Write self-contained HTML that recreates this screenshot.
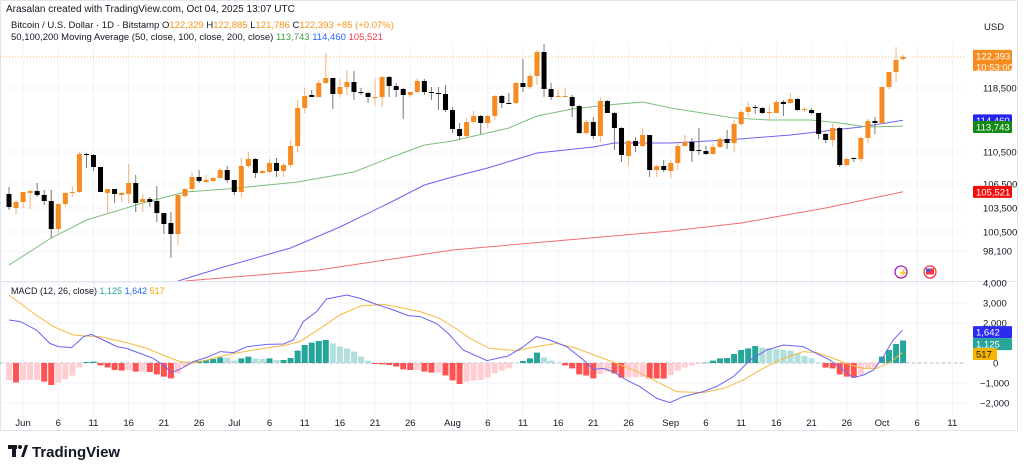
<!DOCTYPE html>
<html><head><meta charset="utf-8">
<style>
html,body{margin:0;padding:0;background:#fff;}
svg{display:block;font-family:"Liberation Sans",sans-serif;}
</style></head>
<body>
<svg id="chart" width="1024" height="470" viewBox="0 0 1024 470" xmlns="http://www.w3.org/2000/svg">
<rect x="0" y="0" width="1024" height="470" fill="#ffffff"/>
<rect x="0.5" y="0.5" width="1017" height="430" fill="none" stroke="#e0e3eb"/>
<g id="grid"></g>
<g id="price" clip-path="url(#pclip)"></g>
<g id="macd" clip-path="url(#mclip)"></g>
<defs>
<clipPath id="pclip"><rect x="0" y="44" width="966" height="237"/></clipPath>
<clipPath id="mclip"><rect x="0" y="282" width="966" height="140"/></clipPath>
</defs>
<line x1="0" y1="281.5" x2="1017" y2="281.5" stroke="#e0e3eb"/>
<g id="axes"></g>
<text x="6" y="12" font-size="10" fill="#131722">Arasalan created with TradingView.com, Oct 04, 2025 13:07 UTC</text>
<text x="11" y="28" font-size="9.5" fill="#131722">Bitcoin / U.S. Dollar · 1D · Bitstamp  <tspan>O</tspan><tspan fill="#f7931a">122,329</tspan> H<tspan fill="#f7931a">122,885</tspan> L<tspan fill="#f7931a">121,786</tspan> C<tspan fill="#f7931a">122,393</tspan> <tspan fill="#f7931a">+85 (+0.07%)</tspan></text>
<text x="11" y="40" font-size="9.5" fill="#131722">50,100,200 Moving Average (50, close, 100, close, 200, close) <tspan fill="#43a047">113,743</tspan> <tspan fill="#2962ff">114,460</tspan> <tspan fill="#f23645">105,521</tspan></text>
<text x="984" y="30" font-size="9.5" fill="#131722">USD</text>
<text x="11" y="294" font-size="9" fill="#131722">MACD (12, 26, close) <tspan fill="#26a69a">1,125</tspan> <tspan fill="#2962ff">1,642</tspan> <tspan fill="#f7a600">517</tspan></text>
<g>
<circle cx="901" cy="272" r="6" fill="none" stroke="#9c27b0" stroke-width="1.3"/>
<text x="898" y="275.5" font-size="8" fill="#9c27b0">⚡</text>
<circle cx="930" cy="272" r="6" fill="#fff" stroke="#f23645" stroke-width="1.3"/>
<rect x="926" y="268.5" width="8" height="6" fill="#f23645"/><rect x="926" y="268.5" width="4" height="3" fill="#2962ff"/>
</g>
<g>
<rect x="8" y="445" width="9" height="4" fill="#131722"/><rect x="12" y="445" width="4" height="12" fill="#131722"/>
<circle cx="20" cy="447" r="2" fill="#131722"/><polygon points="21,457 25,445 28,445 24,457" fill="#131722"/>
<text x="32" y="457" font-size="15" font-weight="bold" fill="#131722">TradingView</text>
</g>
</svg>
<script>
const opens=[105250,103500,104250,105375,105625,105125,104375,100875,104000,105375,
105500,110250,110125,108625,105375,105875,105125,105250,106625,104250,
104625,104375,102875,101625,100250,105000,105875,107375,106750,106875,
107250,108250,107000,105500,108750,109625,107875,108000,109125,108125,
108875,111250,116000,117625,117375,119125,119750,117750,118625,119250,
118000,117875,117250,117375,119875,118750,118375,117625,118000,119375,
118000,117875,117750,115750,113375,112500,114250,115000,114125,115000,
117500,116625,116625,119125,118625,120000,123000,118375,117375,117375,
117375,116250,112875,114250,112500,116875,115375,113500,110000,111875,
111250,112625,108250,108750,108125,109125,111250,111750,110750,110625,
110250,111125,112125,111625,114000,115500,116125,116000,115375,115375,
116750,116625,117125,115750,115750,115375,112750,112000,113500,108875,
109750,109625,112250,114375,114125,118625,120500,122125];
const highs=[106125,104500,105500,105750,106625,105750,105750,104125,105500,106250,
110500,110375,110250,108625,105875,105875,105500,109000,107625,105250,
104875,106250,102875,103000,105125,106000,108000,108250,107625,107375,
108500,108750,107000,109750,110500,109750,108250,109625,109750,109125,
112000,117000,118500,118250,119500,122875,119750,119625,120750,120625,
118500,118000,119625,120000,120000,119125,118500,118000,119750,119625,
118625,118625,118875,116125,114125,114750,115625,115125,115125,117625,
117625,117875,119250,122125,120375,123250,124125,119125,118250,118500,
117625,116375,114500,114875,117375,117000,115500,113625,112000,112375,
113500,112625,108875,109500,109500,111625,112625,112250,113500,111250,
111500,112375,113250,114500,115750,116750,116375,116125,116250,117000,
117000,117875,117250,116125,116000,115375,112875,114000,113625,109875,
109875,112375,114625,114875,118625,120500,123625,122625];
const lows=[103250,102750,103500,103375,104875,103875,99750,100375,103625,104875,
105375,108500,108125,105500,102750,104125,104250,104125,103000,103000,
103625,101750,100250,97250,98875,104750,105625,106625,106625,106750,
107125,106625,105125,104875,108500,107250,107750,107875,107375,107375,
108625,110500,115375,117375,117375,119000,115875,117375,117625,117000,
117625,116625,116375,116125,117375,117375,114625,117375,117875,117625,
117000,115750,115500,112875,112000,112125,114125,112750,113500,114500,
116000,116500,116500,118000,118375,118875,117375,117000,117375,117375,
114875,112750,112625,112125,111750,115375,110750,109250,108750,110500,
111125,107375,107375,108000,107250,108250,111125,109250,110125,110125,
110125,111000,110875,110500,113750,114875,115250,115250,114500,115375,
115000,116500,115625,115500,115250,112125,111625,111125,108625,108750,
109250,109250,111625,112750,114000,118375,119250,121875];
const closes=[103625,104250,105500,105625,105125,104375,100875,104000,105375,105500,
110250,110125,108625,105500,105875,105250,105375,106625,104125,104625,
104250,102875,101500,100250,105125,105875,107375,106875,107000,107250,
108250,107000,105500,108750,109625,107875,108125,109125,108125,108875,
111250,116000,117500,117375,119125,119750,117750,118625,119250,118000,
117875,117375,117375,119875,118750,118250,117625,118000,119375,118000,
117875,117750,115750,113375,112500,114250,115000,114125,115000,117500,
116625,116500,119125,118625,120000,123000,118375,117375,117500,117500,
116250,112875,114250,112500,116875,115375,113500,110125,111875,111250,
112625,108250,108750,108250,109125,111250,111750,110625,110625,110250,
111125,112125,111625,114000,115500,116125,116000,115375,115500,116750,
116500,117125,115750,115875,115375,112750,112000,113500,108875,109625,
109625,112250,114375,114125,118625,120500,122000,122393];
const ma50Idx=[0,6,11,19,25,31,41,49,54,59,63,71,75,80,85,90,94,103,108,114,118,122,127];
const ma50Val=[96375,99750,102000,104125,105500,105875,106750,108000,109750,111375,111875,113500,115000,115875,116375,116750,116000,114750,114500,114500,114125,113625,113743];
const ma100Idx=[24,30,40,47,54,59,63,68,75,83,86,94,102,111,121,127];
const ma100Val=[94375,96000,98500,101125,104125,106375,107375,108500,110375,111125,111625,111625,112000,112625,113625,114460];
const ma200Idx=[25,44,63,94,104,116,127];
const ma200Val=[94375,95750,98250,100625,101625,103500,105521];
const histVals=[-850,-970,-850,-850,-850,-930,-1100,-980,-820,-630,
-220,50,70,-120,-220,-350,-380,-350,-430,-430,
-450,-570,-680,-770,-520,-180,-50,100,130,200,
280,270,120,230,320,230,200,230,150,150,
250,620,900,1020,1100,1150,980,820,720,570,
320,120,-50,-70,-100,-180,-320,-350,-350,-430,
-480,-480,-620,-870,-1050,-930,-880,-850,-720,-520,
-380,-270,-20,100,230,520,280,120,10,-120,
-270,-570,-630,-770,-550,-430,-520,-730,-720,-710,
-700,-770,-775,-780,-600,-380,-220,-130,-50,20,
120,230,250,450,650,730,850,770,730,700,
650,620,480,350,230,10,-230,-270,-570,-680,
-730,-600,-270,-220,320,650,950,1125];
const macdIdx=[0,1.6,3.9,5.8,7,8.9,10.6,11.7,13.4,15.3,16.7,18.6,20.5,21.9,23.1,24.5,26.2,28.1,30,31.9,33.8,36.6,39,40.4,41.8,43.7,45.1,48,49.9,52.2,54.6,56.7,58.4,60.7,62.4,64.5,67.9,70.9,73.1,74.9,76.8,79.2,81.6,83,84.4,85.8,87.7,89.6,92,93.9,95.8,98.6,100.5,102.9,105.3,107.6,110,112.8,114.7,116.6,118.5,119.9,121.4,122.8,124.2,125.6,126.9];
const macdVal=[2150,2070,1650,980,820,770,1320,1430,1150,820,730,480,230,-100,-480,-270,70,280,570,520,820,930,950,1150,2070,2570,3200,3400,3230,2930,2650,2370,2320,1980,1480,650,120,350,820,1320,1150,820,150,-320,-270,-430,-850,-1180,-1770,-1980,-1680,-1430,-1180,-680,150,650,900,820,480,150,-350,-730,-600,-350,320,1150,1642];
const sigIdx=[0,3.5,6.3,9.1,11,12.9,16.7,19.6,22.4,24.3,26.2,28.1,30.9,34.7,39.4,41.3,44.2,47,49.9,53.2,55.5,58.4,61.2,63.8,65.5,68.3,72.1,74.9,77.8,80.6,83.5,86.3,89.2,92,94.8,98.6,101.5,104.3,107.1,110,112.8,114.7,117.1,119.5,121.4,123.2,125.1,126.9];
const sigVal=[3400,2480,1820,1400,1350,1320,1020,730,320,70,20,150,400,650,900,1070,1730,2400,2850,2930,2780,2570,2230,1650,1230,730,620,820,980,730,350,-20,-430,-930,-1430,-1480,-1270,-850,-270,230,570,520,230,-100,-270,-270,20,517];
const priceTicks=[118500,110500,106500,103500,100500,98100];
const macdTicks=[4000,3000,2000,0,-1000,-2000];
const dateLabels=["Jun","6","11","16","21","26","Jul","6","11","16","21","26","Aug","6","11","16","21","26","Sep","6","11","16","21","26","Oct","6","11"];
const dateIdx=[2,7,12,17,22,27,32,37,42,47,52,57,63,68,73,78,83,88,94,99,104,109,114,119,124,129,134];

const NS="http://www.w3.org/2000/svg";
const xI=i=>9+7.04*i;
const yP=p=>(129500-p)/125;
const yM=v=>363-v*0.02;
function mk(tag,attrs,parent){const e=document.createElementNS(NS,tag);for(const k in attrs)e.setAttribute(k,attrs[k]);parent.appendChild(e);return e;}
const fmt=v=>(v<0?"−":"")+Math.abs(v).toLocaleString("en-US");
const grid=document.getElementById('grid'),price=document.getElementById('price'),macd=document.getElementById('macd'),axes=document.getElementById('axes');

dateIdx.forEach((d,k)=>{
  const gl=mk('line',{x1:xI(d),x2:xI(d),y1:44,y2:430,stroke:'#f0f3fa'},grid);
  
  
  const t=mk('text',{x:xI(d),y:426,'font-size':9.5,'text-anchor':'middle',fill:'#131722'},axes);
  t.textContent=dateLabels[k];
  
  
});
priceTicks.forEach(p=>{
  const gl=mk('line',{x1:0,x2:966,y1:yP(p),y2:yP(p),stroke:'#f0f3fa'},grid);
  
  
  const t=mk('text',{x:983,y:yP(p)+3.5,'font-size':9.5,fill:'#131722'},axes);
  t.textContent=fmt(p);
  
  
});
macdTicks.forEach(v=>{
  const gl=mk('line',{x1:0,x2:966,y1:yM(v),y2:yM(v),stroke:'#f0f3fa'},grid);
  
  
  const t=mk('text',{x:v<0?980:(v===0?993:983),y:yM(v)+3.5,'font-size':9.5,fill:'#131722'},axes);
  t.textContent=fmt(v);
  
  
});
// current price line
const cp=closes[closes.length-1];
const pl=mk('line',{x1:0,x2:966,y1:yP(cp),y2:yP(cp),stroke:'#f7931a','stroke-dasharray':'1 2','stroke-opacity':0.6},price);


// MAs
function maLine(idx,vals,color,name){
  const pts=idx.map((d,k)=>xI(d).toFixed(1)+','+yP(vals[k]).toFixed(1)).join(' ');
  const l=mk('polyline',{points:pts,fill:'none',stroke:color,'stroke-width':1},price);
  
  
}
maLine(ma200Idx,ma200Val,'#f26d6d','ma200-line');
maLine(ma100Idx,ma100Val,'#6b63f0','ma100-line');
maLine(ma50Idx,ma50Val,'#7cbf7c','ma50-line');
// candles
opens.forEach((o,i)=>{
  const c=closes[i],up=c>=o,x=xI(i);
  const w=mk('line',{x1:x,x2:x,y1:yP(highs[i]),y2:yP(lows[i]),stroke:up?'#f5b27a':'#777','stroke-width':1},price);
  
  
  const top=yP(Math.max(o,c)),bot=yP(Math.min(o,c));
  const b=mk('rect',{x:x-2.5,y:top,width:5,height:Math.max(1,bot-top),fill:up?'#f68b1f':'#000'},price);
  
  
});
// MACD histogram
const zl=mk('line',{x1:0,x2:966,y1:yM(0),y2:yM(0),stroke:'#b2b5be','stroke-dasharray':'3 3'},macd);


histVals.forEach((v,i)=>{
  const pv=i>0?histVals[i-1]:v;
  const col=v>=0?(v>=pv?'#26a69a':'#b2dfdb'):(v<pv?'#ff5252':'#ffcdd2');
  const y0=yM(Math.max(v,0)),y1=yM(Math.min(v,0));
  const r=mk('rect',{x:xI(i)-3,y:y0,width:6,height:Math.max(0.5,y1-y0),fill:col},macd);
  
  
});
function mLine(idx,vals,color,name){
  const pts=idx.map((d,k)=>xI(d).toFixed(1)+','+yM(vals[k]).toFixed(1)).join(' ');
  const l=mk('polyline',{points:pts,fill:'none',stroke:color,'stroke-width':1},macd);
  
  
}
mLine(sigIdx,sigVal,'#f5b942','signal-line');
mLine(macdIdx,macdVal,'#6b63f0','macd-line');
// axis value badges
function badge(y,h,w,bg,lines,name){
  const g=mk('g',{},axes);
  
  
  mk('rect',{x:973,y:y,width:w,height:h,fill:bg,rx:1},g);
  lines.forEach((s,k)=>{const t=mk('text',{x:976,y:y+9.5+k*11,'font-size':9.5,fill:'#fff'},g);t.textContent=s;});
}
badge(yP(cp)-7,21,39,'#f68b1f',[fmt(cp),'10:53:00'],'price-badge');
badge(yP(ma100Val[ma100Val.length-1])-6,12,39,'#2323f0',[fmt(ma100Val[ma100Val.length-1])],'ma100-badge');
badge(yP(ma50Val[ma50Val.length-1])-5,12,39,'#138a13',[fmt(ma50Val[ma50Val.length-1])],'ma50-badge');
badge(yP(ma200Val[ma200Val.length-1])-6,12,39,'#f20d0d',[fmt(ma200Val[ma200Val.length-1])],'ma200-badge');
badge(yM(macdVal[macdVal.length-1])-4,12,39,'#2b2bf0',[fmt(macdVal[macdVal.length-1])],'macd-badge');
badge(yM(macdVal[macdVal.length-1])+8,12,39,'#26a69a',[fmt(histVals[histVals.length-1])],'histogram-badge');
const sb=mk('g',{},axes);


mk('rect',{x:973,y:348,width:24,height:12,fill:'#f7b500',rx:1},sb);
const st=mk('text',{x:976,y:357.5,'font-size':9.5,fill:'#131722'},sb);st.textContent=fmt(sigVal[sigVal.length-1]);
</script>
</body></html>
